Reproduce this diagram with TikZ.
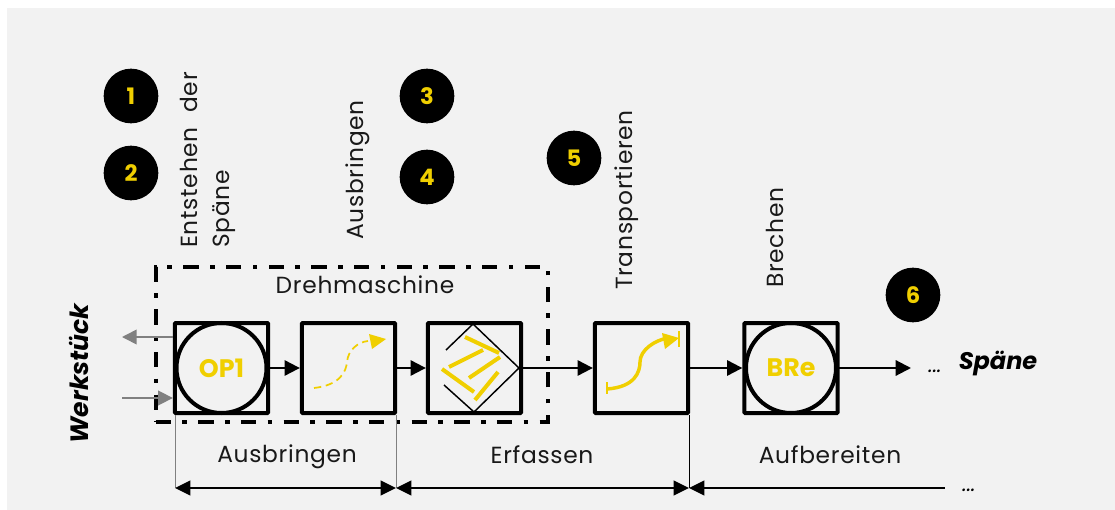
\documentclass[tikz,border=0pt]{standalone}
\usepackage{fontspec}
\setmainfont{Poppins}
\newfontfamily\lblfont[LetterSpace=3]{Poppins}
\usetikzlibrary{arrows.meta,positioning}
\definecolor{panel}{HTML}{F2F2F2}
\definecolor{gelb}{HTML}{F0CF00}
\definecolor{grau}{HTML}{808080}
\tikzset{
  badge/.style={circle,fill=black,text=gelb,minimum size=41pt,inner sep=0pt,font=\fontsize{17}{17}\selectfont\bfseries},
  procbox/.style={draw=black,line width=3pt,minimum width=70pt,minimum height=67.5pt,inner sep=0pt,rounded corners=0.6pt},
  opcirc/.style={circle,draw=black,line width=3pt,minimum size=67.5pt,inner sep=0pt,text=gelb,font=\fontsize{19}{19}\selectfont\bfseries},
  flow/.style={line width=1.6pt,-{Triangle[length=11.5pt,width=11.5pt]}},
  greyflow/.style={draw=grau,line width=1.2pt,-{Triangle[length=11pt,width=11pt,fill=grau]}},
  dim/.style={line width=1.3pt,{Triangle[length=11.5pt,width=11pt]}-{Triangle[length=11.5pt,width=11pt]}},
  dimopen/.style={line width=1.3pt,{Triangle[length=11.5pt,width=11pt]}-},
  lbl/.style={inner sep=0pt,font=\lblfont\fontsize{17.5}{17.5}\selectfont,text=black!90},
  vlbl/.style={lbl,rotate=90},
  yel/.style={draw=gelb,line width=3pt},
}
\begin{document}
\begin{tikzpicture}[x=0.75pt,y=-0.75pt]
\useasboundingbox (0,0) rectangle (1115,510);
\fill[white] (0,0) rectangle (1115,510);
\fill[panel] (7,8) rectangle (1115,510);
% badges
\node[badge] (b1) at (131,96) {1};
\node[badge] (b2) at (131,173) {2};
\node[badge] (b3) at (427,96) {3};
\node[badge] (b4) at (427,177) {4};
\node[badge] (b5) at (574,158) {5};
\node[badge] (b6) at (913,295) {6};
% rotated labels
\node[vlbl,anchor=west] (l1a) at (189,248) {Entstehen\hspace{11pt}der};
\node[vlbl,anchor=west] (l1b) at (224,248) {Späne};
\node[vlbl,anchor=west] (l2) at (358,240) {Ausbringen};
\node[vlbl,anchor=west] (l3) at (627,290) {Transportieren};
\node[vlbl,anchor=west] (l4) at (775,288) {Brechen};
% frame
\node[draw=black,line width=3pt,dash pattern=on 11.5pt off 8.5pt on 3.5pt off 8.5pt,minimum width=294pt,minimum height=116.25pt,inner sep=0pt] (frame) at (351.5,344.5) {};
\node[lbl] (dm) at (365,285) {Drehmaschine};
% boxes
\node[procbox] (p1) at (221.5,368) {};
\node[procbox] (p2) at (348.5,368) {};
\node[procbox] (p3) at (474.5,368) {};
\node[procbox] (p4) at (641.5,368) {};
\node[procbox] (p5) at (791,368) {};
\node[opcirc] (op) at (221.5,368) {OP1};
\node[opcirc] (bre) at (791,368) {BRe};
% box 2 curve
\draw[draw=gelb,line width=1.3pt,dash pattern=on 5.5pt off 3.5pt] (314,388) .. controls (340,385) and (346,372) .. (347,362) .. controls (348,350) and (358,342) .. (368,341);
\draw[draw=none,fill=gelb] (386,339) -- (369,334) -- (372,349) -- cycle;
% box 3 diamond
\draw[line width=1.1pt] (446,350) -- (473,324) (473,324) -- (519,368) -- (474,412) (474,412) -- (444,385);
\begin{scope}[yel,line cap=butt]
\draw (465,337) -- (499,353);
\draw (449,367) -- (483,350);
\draw (469,378) -- (500,357);
\draw (442,369) -- (474,392);
\draw (475,400) -- (498,372);
\end{scope}
% box 4 curve
\draw[yel,line width=2.6pt] (607,389) .. controls (635,387) and (640,372) .. (640,362) .. controls (640,350) and (655,340) .. (668,338);
\draw[draw=none,fill=gelb] (679,338) -- (662,333) -- (665,349) -- cycle;
\draw[draw=gelb,line width=1.5pt] (607,382) -- (607,394) (679,331) -- (679,347);
% flow
\draw[flow] (op) -- (p2);
\draw[flow] (p2) -- (p3);
\draw[flow] (p3) -- (p4);
\draw[flow] (p4) -- (p5);
\coordinate (fend) at (911,368);
\draw[flow] (bre) -- (fend);
\node[inner sep=0pt,font=\fontsize{16}{16}\selectfont\itshape] (dots1) at (935,371) {...};
\node[inner sep=0pt,font=\fontsize{18}{18}\selectfont\bfseries\itshape] (sp) at (998,363) {Späne};
% grey arrows
\coordinate (gout) at (122,337);
\coordinate (gin) at (122,398);
\draw[greyflow] (p1.west |- gout) -- (gout);
\draw[greyflow] (gin) -- (p1.west |- gin);
\node[rotate=90,inner sep=0pt,font=\fontsize{18.8}{18.8}\selectfont\bfseries\itshape] (wk) at (79,373.5) {Werkstück};
% dimensions
\coordinate (d0) at (175,488);
\coordinate (d1) at (396,488);
\coordinate (d2) at (689,488);
\coordinate (d3) at (945,488);
\draw[grau,line width=0.7pt] (d0 |- p1.south) -- (d0);
\draw[grau,line width=0.7pt] (d1 |- p2.south) -- (d1);
\draw[black,line width=0.7pt] (d2 |- p4.south) -- (d2);
\draw[dim] (d0) -- (d1);
\draw[dim] (d1) -- (d2);
\draw[dimopen] (d2) -- (d3);
\node[lbl] (t1) at (287,457) {Ausbringen};
\node[lbl] (t2) at (542,455) {Erfassen};
\node[lbl] (t3) at (830,455) {Aufbereiten};
\node[inner sep=0pt,font=\fontsize{16}{16}\selectfont\itshape] (dots2) at (969,490) {...};
\end{tikzpicture}
\end{document}
